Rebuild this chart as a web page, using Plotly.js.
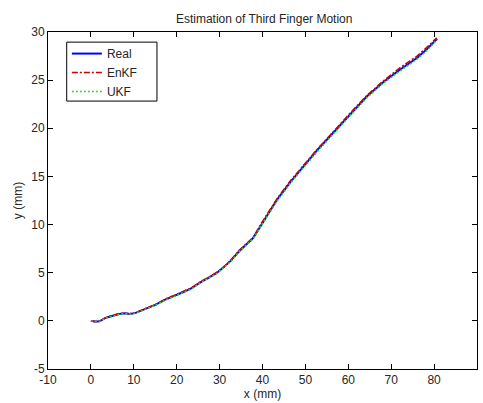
<!DOCTYPE html>
<html>
<head>
<meta charset="utf-8">
<script src="https://cdn.plot.ly/plotly-3.0.1.min.js"></script>
<style>html,body{margin:0;padding:0;background:#fff;}#chart{width:483px;height:403px;}</style>
</head>
<body>
<div id="chart"></div>
<script>
const realX = [0, 1, 2, 3.3, 4.5, 5.7, 7, 8, 9, 10.3, 11.5, 12.7, 14, 15, 17.3, 19.6, 21.6, 23.5, 25.5, 27.5, 29.4, 31, 32.5, 34.5, 36.5, 37.8, 39.5, 41.4, 43.4, 46.5, 49.6, 52.7, 55.8, 58.9, 61.2, 64.3, 68.2, 72.1, 76, 78.3, 80.7];
const realY = [0, -0.08, -0.05, 0.28, 0.45, 0.62, 0.75, 0.8, 0.72, 0.8, 1.0, 1.2, 1.45, 1.66, 2.2, 2.6, 3.0, 3.4, 4.0, 4.5, 5.0, 5.6, 6.2, 7.2, 8.1, 8.6, 9.8, 11.2, 12.6, 14.4, 16.1, 17.7, 19.2, 20.7, 21.85, 23.3, 24.8, 26.1, 27.3, 28.2, 29.3];
const enkfX = [0, 1, 2.1, 3.3, 4.4, 5.7, 7, 8.1, 9, 10.3, 11.5, 12.6, 14, 15.1, 17.3, 19.6, 21.5, 23.5, 25.5, 27.5, 29.4, 31.1, 32.5, 34.4, 36.5, 37.8, 39.4, 41.4, 43.4, 46.4, 49.6, 52.7, 55.8, 58.8, 61.2, 64.3, 68.1, 72.1, 76, 78.3, 80.6];
const enkfY = [0, -0.05, -0.02, 0.3, 0.5, 0.65, 0.8, 0.78, 0.75, 0.85, 1.05, 1.25, 1.5, 1.7, 2.25, 2.65, 3.05, 3.45, 4.05, 4.55, 5.05, 5.65, 6.25, 7.25, 8.15, 8.65, 9.9, 11.3, 12.7, 14.5, 16.2, 17.8, 19.3, 20.8, 21.95, 23.4, 24.9, 26.3, 27.5, 28.4, 29.4];
const ukfX = [0, 1, 2, 3.2, 4.5, 5.8, 7, 8, 9.1, 10.3, 11.4, 12.7, 14, 15, 17.4, 19.6, 21.6, 23.6, 25.5, 27.5, 29.5, 31, 32.6, 34.5, 36.6, 37.9, 39.5, 41.5, 43.5, 46.5, 49.7, 52.8, 55.9, 58.9, 61.3, 64.4, 68.2, 72.2, 76.1, 78.4, 80.7];
const ukfY = [0, -0.1, -0.07, 0.25, 0.42, 0.6, 0.72, 0.77, 0.7, 0.78, 0.97, 1.17, 1.42, 1.62, 2.15, 2.55, 2.95, 3.35, 3.95, 4.45, 4.95, 5.55, 6.15, 7.15, 8.05, 8.55, 9.75, 11.1, 12.5, 14.3, 16.0, 17.6, 19.1, 20.6, 21.75, 23.2, 24.7, 26.0, 27.2, 28.1, 29.2];

const xTicks = [-10, 0, 10, 20, 30, 40, 50, 60, 70, 80, 90];
const yTicks = [-5, 0, 5, 10, 15, 20, 25, 30];

const font = {family: 'Liberation Sans, Arial, sans-serif', size: 12, color: '#262626'};

const traces = [
  {x: realX, y: realY, name: 'Real', mode: 'lines', line: {color: '#0000ff', width: 2}},
  {x: enkfX, y: enkfY, name: 'EnKF', mode: 'lines', line: {color: '#d00000', width: 1.5, dash: '6px,2px,2px,2px'}},
  {x: ukfX, y: ukfY, name: 'UKF', mode: 'lines', line: {color: '#22dd22', width: 1.5, dash: '2px,2px'}}
];

const axisCommon = {
  showgrid: false, zeroline: false, showline: true, linecolor: '#000', linewidth: 1,
  mirror: 'ticks', ticks: 'inside', ticklen: 5, tickcolor: '#000', tickfont: font
};

const layout = {
  width: 483, height: 403,
  margin: {l: 48, r: 6, t: 32, b: 34},
  paper_bgcolor: '#fff', plot_bgcolor: '#fff',
  font: font,
  title: {text: 'Estimation of Third Finger Motion', font: {family: font.family, size: 12, color: '#262626'}, x: 0.547, xanchor: 'center', y: 0.965, yanchor: 'top'},
  xaxis: Object.assign({}, axisCommon, {range: [-10, 90], tickvals: xTicks, ticktext: xTicks.map(String),
    title: {text: 'x (mm)', font: font, standoff: 3}}),
  yaxis: Object.assign({}, axisCommon, {range: [-5, 30], tickvals: yTicks, ticktext: yTicks.map(String),
    title: {text: 'y (mm)', font: font, standoff: 6}}),
  shapes: [
    {type: 'rect', xref: 'paper', yref: 'paper', x0: 0.0436, x1: 0.254, y0: 0.795, y1: 0.970,
     line: {color: '#000', width: 1}, fillcolor: '#fff', layer: 'above'}
  ],
  showlegend: true,
  legend: {x: 0.044, y: 0.979, xanchor: 'left', yanchor: 'top', bgcolor: 'rgba(0,0,0,0)', borderwidth: 0, font: font, tracegroupgap: 0}
};

Plotly.newPlot('chart', traces, layout, {staticPlot: true, displayModeBar: false});
</script>
</body>
</html>
